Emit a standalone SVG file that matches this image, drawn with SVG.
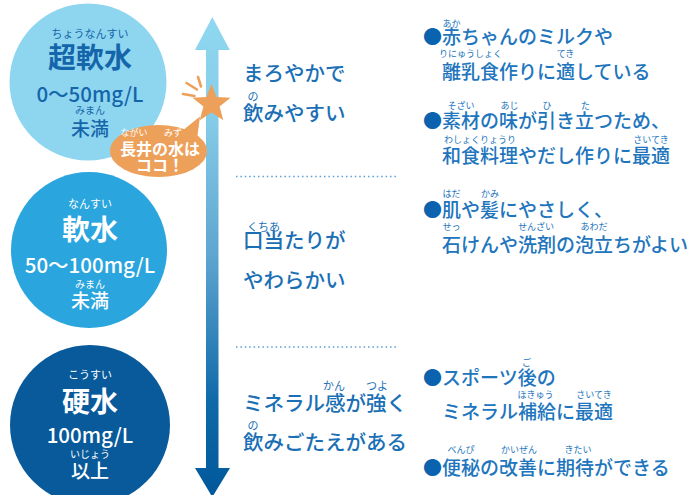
<svg xmlns="http://www.w3.org/2000/svg" width="700" height="495" viewBox="0 0 700 495">
<style>
text{font-family:"Noto Sans CJK JP","Noto Sans",sans-serif}
.c1{fill:#1565aa}
.w{fill:#ffffff}
.big{font-size:28px;font-weight:700;text-anchor:middle}
.num{font-size:20.5px;font-weight:500;text-anchor:middle}
.sub{font-size:19px;font-weight:500;text-anchor:middle}
.rb{font-size:11px;text-anchor:middle}
.rbs{font-size:9.5px;text-anchor:middle}
.mid{font-size:20.5px;font-weight:500;fill:#1a6fb5}
.midr{font-size:11px;fill:#1a6fb5;text-anchor:middle}
.rt{font-size:19px;font-weight:500;fill:#2175bd}
.rtr{font-size:9px;fill:#2175bd;text-anchor:middle}
.bul{fill:#0b63b0;font-weight:400}
.dot{stroke:#5a9fd6;stroke-width:1.5;stroke-dasharray:1.5 2.9;fill:none}
.ray{stroke:#eda05a;stroke-width:2.6;stroke-linecap:round;fill:none}
</style>
<defs>
<linearGradient id="ag" x1="0" y1="17" x2="0" y2="496" gradientUnits="userSpaceOnUse">
<stop offset="0" stop-color="#8fd8f0"/>
<stop offset="0.2" stop-color="#86cde9"/>
<stop offset="0.5" stop-color="#5ea5d0"/>
<stop offset="0.8" stop-color="#0f6aa9"/>
<stop offset="1" stop-color="#00589a"/>
</linearGradient>
</defs>

<g id="connectors">
<path id="scale-arrow" d="M212.3,17 L229.8,50 L218.5,50 L218.5,468 L230,468 L212.3,497 L195,468 L206,468 L206,50 L195,50 Z" fill="url(#ag)"/>
<line class="dot" x1="236" y1="176.5" x2="398" y2="176.5"/>
<line class="dot" x1="236" y1="347" x2="398" y2="347"/>
</g>

<g id="node-chonansui">
<circle cx="88" cy="82" r="78.5" fill="#8ed6f0"/>
<text class="rb c1" x="90" y="38" font-size="12">ちょうなんすい</text>
<text class="big c1" x="90" y="68">超軟水</text>
<text class="num c1" x="90" y="102">0〜50mg/L</text>
<text class="rb c1" x="90" y="113.5" style="font-size:10px">みまん</text>
<text class="sub c1" x="90" y="136">未満</text>
</g>

<g id="node-nansui">
<circle cx="89" cy="250" r="78" fill="#2aa5de"/>
<text class="rb w" x="90" y="207.5">なんすい</text>
<text class="big w" x="90" y="240">軟水</text>
<text class="num w" x="90" y="273">50〜100mg/L</text>
<text class="rb w" x="90" y="287.5" style="font-size:10px">みまん</text>
<text class="sub w" x="90" y="308">未満</text>
</g>

<g id="node-kosui">
<circle cx="90" cy="425" r="80" fill="#085a9b"/>
<text class="rb w" x="90" y="379">こうすい</text>
<text class="big w" x="90" y="411.5">硬水</text>
<text class="num w" x="90" y="443">100mg/L</text>
<text class="rb w" x="90" y="457.5" style="font-size:10px">いじょう</text>
<text class="sub w" x="90" y="478">以上</text>
</g>

<g id="node-nagai-badge">
<line class="ray" x1="198" y1="77" x2="201" y2="86.5"/>
<line class="ray" x1="186.5" y1="83" x2="197" y2="89.5"/>
<line class="ray" x1="183" y1="94" x2="194.5" y2="96"/>
<polygon fill="#eda05a" points="211.5,84 216.5,97.1 230.5,97.8 219.6,106.6 223.3,120.2 211.5,112.5 199.7,120.2 203.4,106.6 192.5,97.8 206.5,97.1"/>
<ellipse cx="158.5" cy="151" rx="48.5" ry="26" fill="#eda05a"/>
<polygon fill="#eda05a" points="182,131 200,116.5 197,139"/>
<text class="rbs w" x="134" y="135.5" style="font-size:9px">ながい</text>
<text class="rbs w" x="173" y="135.5" style="font-size:9px">みず</text>
<text class="w" x="160" y="154.5" text-anchor="middle" font-size="16" font-weight="700">長井の水は</text>
<text class="w" x="160" y="171" text-anchor="middle" font-size="16" font-weight="700">ココ！</text>
</g>

<g id="label-soft">
<text class="mid" x="243" y="81">まろやかで</text>
<text class="midr" x="253" y="101">の</text>
<text class="mid" x="243" y="121">飲みやすい</text>
</g>

<g id="label-medium">
<text class="midr" x="263.5" y="230.5">くちあ</text>
<text class="mid" x="243" y="248">口当たりが</text>
<text class="mid" x="243" y="287.5">やわらかい</text>
</g>

<g id="label-hard">
<text class="midr" x="334" y="389.5">かん</text>
<text class="midr" x="377" y="389.5">つよ</text>
<text class="mid" x="243" y="410.5">ミネラル感が強く</text>
<text class="midr" x="253" y="429.5">の</text>
<text class="mid" x="243" y="450">飲みごたえがある</text>
</g>

<g id="use-chonansui">
<text class="rtr" x="451.5" y="26.5">あか</text>
<text class="rt" x="423" y="44"><tspan class="bul">●</tspan>赤ちゃんのミルクや</text>
<text class="rtr" x="470.5" y="57">りにゅうしょく</text>
<text class="rtr" x="565.5" y="57">てき</text>
<text class="rt" x="442" y="79">離乳食作りに適している</text>
<text class="rtr" x="461" y="109">そざい</text>
<text class="rtr" x="509.5" y="109">あじ</text>
<text class="rtr" x="547" y="109">ひ</text>
<text class="rtr" x="585.5" y="109">た</text>
<text class="rt" x="423" y="128"><tspan class="bul">●</tspan>素材の味が引き立つため、</text>
<text class="rtr" x="480" y="143">わしょくりょうり</text>
<text class="rtr" x="651" y="143">さいてき</text>
<text class="rt" x="442" y="163">和食料理やだし作りに最適</text>
</g>

<g id="use-nansui">
<text class="rtr" x="451.5" y="196.5">はだ</text>
<text class="rtr" x="490" y="196.5">かみ</text>
<text class="rt" x="423" y="217"><tspan class="bul">●</tspan>肌や髪にやさしく、</text>
<text class="rtr" x="451.5" y="230">せっ</text>
<text class="rtr" x="536" y="230">せんざい</text>
<text class="rtr" x="594" y="230">あわだ</text>
<text class="rt" x="442" y="252">石けんや洗剤の泡立ちがよい</text>
</g>

<g id="use-kosui">
<text class="rtr" x="526.5" y="365.5">ご</text>
<text class="rt" x="423" y="385"><tspan class="bul">●</tspan>スポーツ後の</text>
<text class="rtr" x="535.5" y="398">ほきゅう</text>
<text class="rtr" x="594" y="398">さいてき</text>
<text class="rt" x="442" y="419">ミネラル補給に最適</text>
<text class="rtr" x="461" y="453">べんぴ</text>
<text class="rtr" x="519" y="453">かいぜん</text>
<text class="rtr" x="578" y="453">きたい</text>
<text class="rt" x="423" y="475"><tspan class="bul">●</tspan>便秘の改善に期待ができる</text>
</g>
</svg>
